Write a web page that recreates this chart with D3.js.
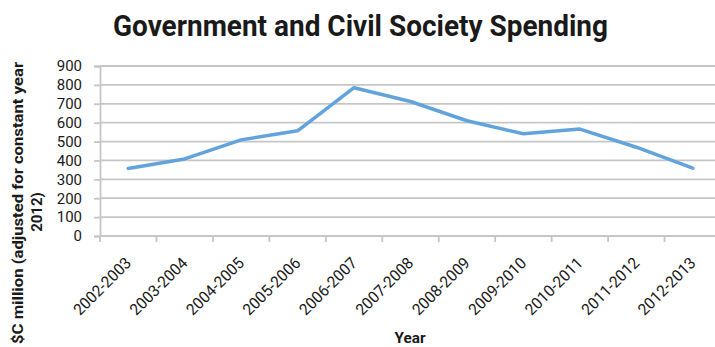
<!DOCTYPE html>
<html>
<head>
<meta charset="utf-8">
<script src="https://cdn.jsdelivr.net/npm/d3@7/dist/d3.min.js"></script>
<style>
  html, body { margin: 0; padding: 0; background: #fff; }
  svg { display: block; }
  text { font-family: Roboto, "Noto Sans", sans-serif; fill: #1a1a1a; }
</style>
</head>
<body>
<svg id="chart" width="715" height="347"></svg>
<script>
// Spending per fiscal year, $C million (constant 2012 dollars)
const years = ["2002-2003", "2003-2004", "2004-2005", "2005-2006", "2006-2007",
               "2007-2008", "2008-2009", "2009-2010", "2010-2011", "2011-2012", "2012-2013"];
const spending = [357, 408, 509, 557, 785, 712, 610, 541, 566, 470, 359];
const yTicks = [0, 100, 200, 300, 400, 500, 600, 700, 800, 900];

const title = "Government and Civil Society Spending";
const yLabelLines = ["$C million (adjusted for constant year", "2012)"];
const xLabel = "Year";

const svg = d3.select("#chart");
const gridColor = "#c6c6c6";

const x = d3.scaleBand().domain(years).range([100, 721]);
const y = d3.scaleLinear().domain([0, 900]).range([236, 66]);

// Horizontal gridlines
svg.append("g")
  .selectAll("line")
  .data(yTicks.filter(d => d > 0))
  .join("line")
  .attr("x1", 100).attr("x2", 715)
  .attr("y1", d => y(d)).attr("y2", d => y(d))
  .attr("stroke", gridColor).attr("stroke-width", 1.8);

// Y axis
const yAxis = svg.append("g")
  .attr("transform", "translate(100,0)")
  .call(d3.axisLeft(y).tickValues(yTicks).tickSize(6).tickPadding(12));
yAxis.select(".domain").attr("stroke", gridColor).attr("stroke-width", 1.8);
yAxis.selectAll(".tick line").attr("stroke", gridColor).attr("stroke-width", 1.8);
yAxis.selectAll(".tick text")
  .attr("font-size", 15).attr("font-family", "Roboto").attr("fill", "#1a1a1a");

// X axis baseline and category boundary ticks
const bounds = years.map(d => x(d));
svg.append("line")
  .attr("x1", 100).attr("x2", 715).attr("y1", y(0)).attr("y2", y(0))
  .attr("stroke", gridColor).attr("stroke-width", 1.8);
svg.append("g")
  .selectAll("line")
  .data(bounds)
  .join("line")
  .attr("x1", d => d).attr("x2", d => d)
  .attr("y1", y(0)).attr("y2", y(0) + 6)
  .attr("stroke", gridColor).attr("stroke-width", 1.8);

// Rotated category labels
svg.append("g")
  .selectAll("text")
  .data(years)
  .join("text")
  .attr("transform", d => `translate(${x(d) + x.bandwidth() / 2 + 4},${y(0) + 28}) rotate(-45)`)
  .attr("text-anchor", "end")
  .attr("font-size", 16)
  .attr("textLength", 74).attr("lengthAdjust", "spacingAndGlyphs")
  .text(d => d);

// Spending line
const line = d3.line()
  .x((d, i) => x(years[i]) + x.bandwidth() / 2)
  .y(d => y(d));
svg.append("path")
  .datum(spending)
  .attr("d", line)
  .attr("fill", "none")
  .attr("stroke", "#62a3db")
  .attr("stroke-width", 3.5)
  .attr("stroke-linejoin", "round")
  .attr("stroke-linecap", "round");

// Title (condensed to fit width)
svg.append("text")
  .attr("x", 360.5).attr("y", 36)
  .attr("text-anchor", "middle")
  .attr("font-size", 30).attr("font-weight", 700)
  .attr("textLength", 495).attr("lengthAdjust", "spacingAndGlyphs")
  .text(title);

// Y axis title, two rotated lines
const yl = svg.append("g").attr("transform", "translate(0,203) rotate(-90)");
yl.append("text")
  .attr("x", 0).attr("y", 23)
  .attr("text-anchor", "middle")
  .attr("font-size", 15).attr("font-weight", 700)
  .attr("textLength", 282).attr("lengthAdjust", "spacingAndGlyphs")
  .text(yLabelLines[0]);
yl.append("text")
  .attr("x", -9).attr("y", 42)
  .attr("text-anchor", "middle")
  .attr("font-size", 15).attr("font-weight", 700)
  .text(yLabelLines[1]);

// X axis title
svg.append("text")
  .attr("x", 410).attr("y", 343)
  .attr("text-anchor", "middle")
  .attr("font-size", 15).attr("font-weight", 700)
  .attr("textLength", 31).attr("lengthAdjust", "spacingAndGlyphs")
  .text(xLabel);
</script>
</body>
</html>
